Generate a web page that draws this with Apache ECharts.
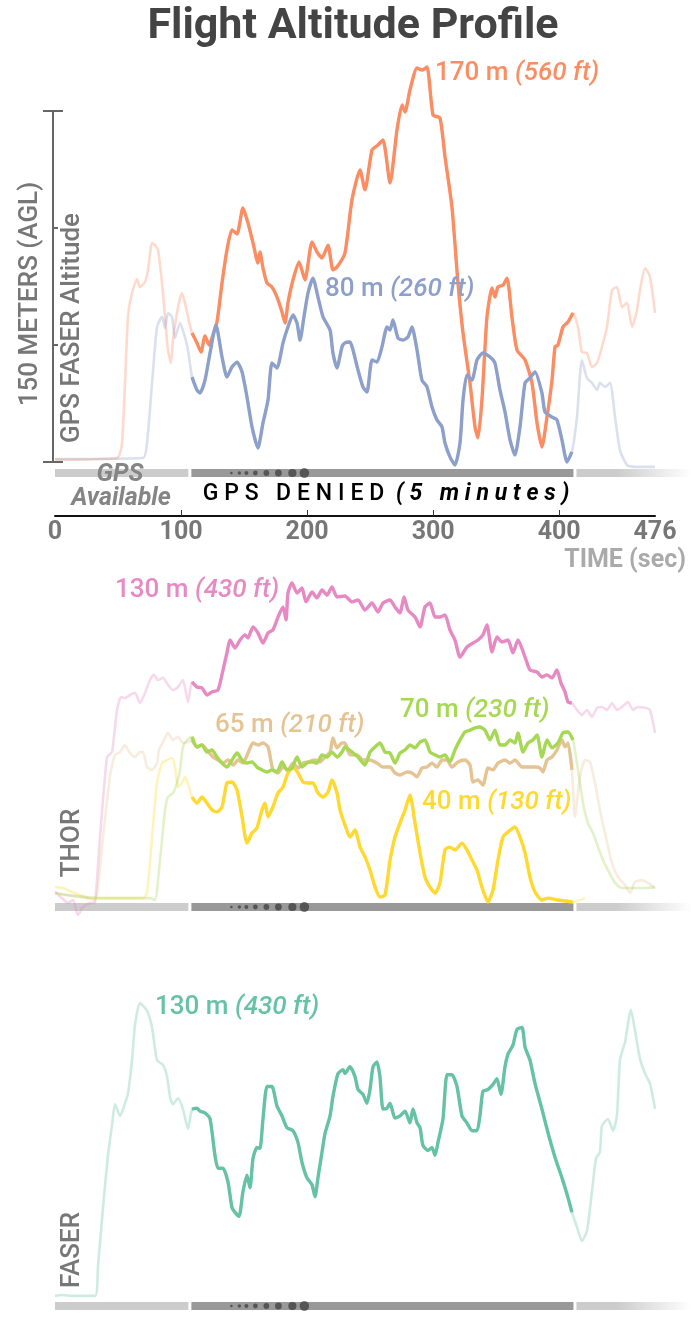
<!DOCTYPE html>
<html>
<head>
<meta charset="utf-8">
<title>Flight Altitude Profile</title>
<script src="https://cdn.jsdelivr.net/npm/echarts@6/dist/echarts.min.js"></script>
<style>
html,body{margin:0;padding:0;background:#fff;}
#container{width:691px;height:1318px;}
</style>
</head>
<body>
<div id="container"></div>
<script>
// [time (sec), altitude (m AGL)]
var gpsAltitude = [[0,1],[49.2,1.7],[53.2,8.1],[57.9,62],[61.1,72.2],[65.1,78.2],[67.4,74.8],[71.4,76.9],[73.8,82.1],[77,93.6],[79.3,92.7],[81.7,90.6],[84.9,76.5],[87.3,62],[89.6,47.9],[92,42.3],[93.6,52.1],[97.6,66.2],[100.7,72.2],[103.1,68],[105.5,62],[108.7,55.1],[112.6,50.9],[115.8,47],[119,53.9],[122.2,50],[125.3,54.3],[128.5,59.8],[132.5,76.5],[136.4,90.6],[140.4,99.2],[144.4,97.4],[149.1,108.6],[153.1,102.1],[157.1,93.6],[161,85],[162.6,89.8],[165,82.9],[168.2,76.5],[172.1,74.8],[176.1,70.5],[180.1,64.1],[182.5,59.4],[184.8,68],[188.8,77.8],[193.6,85.5],[198.3,77.8],[203.9,94],[207.8,89.8],[211.8,87.2],[216.6,92.7],[220.5,82.1],[223.7,83.3],[230,89.3],[235.6,112],[242,124.8],[245.9,116.3],[251.5,133.3],[256.2,135.5],[260.2,137.6],[265.8,119.2],[271.3,141.9],[275.3,152.6],[277.7,149.6],[281.6,159],[287.2,168.4],[291.1,167.5],[295.1,168.8],[299.9,148.3],[305.4,147],[309.4,130.4],[314.9,109],[319.7,76.5],[323.7,55.1],[329.2,33.8],[333.2,15],[335.6,10.3],[338.7,26.5],[342.7,62],[346.7,74.4],[349,70.5],[351.4,74.8],[355.4,75.6],[358.6,78.6],[362.5,62],[366.5,47.9],[372.9,43.6],[378.4,33.8],[382.4,16.7],[386.3,6.4],[390.3,19.2],[394.3,35],[396.7,49.2],[399,50],[403,57.7],[406.9,59.8],[410.9,63.7],[414.9,57.7],[418,47],[422,46.6],[426,40.6],[430,42.3],[433.9,49.2],[437.9,57.7],[441.9,73.5],[445.8,74.8],[449.8,66.2],[453.8,68],[457.8,57.7],[461.7,65],[464.1,73.5],[468.1,82.9],[472,79.1],[476,63.7]];

var gpsFaserAltitude = [[0,1.3],[69.8,1.7],[73,8.1],[77,33.8],[80.9,57.7],[84.9,62],[87.3,57.3],[89.6,63.7],[92.8,62],[95.2,53],[99.2,59.4],[103.1,53.4],[105.5,47.9],[108.7,36.3],[112.6,30.8],[115,29.5],[119,35],[123,46.6],[127.7,58.6],[132.5,44.9],[136.4,36.3],[140.4,40.6],[144.4,42.7],[148.4,38.5],[152.3,27.8],[156.3,15],[161,6],[165,16.7],[169,26.5],[172.1,42.3],[176.1,40.2],[180.9,50.9],[184.8,57.7],[188.8,62.8],[192,59.4],[194.4,52.1],[197.5,62],[200.7,72.2],[204.7,78.6],[208.6,70.5],[212.6,62],[218.2,56.4],[220.5,46.6],[223.7,40.2],[227.7,49.2],[230,50.9],[234,51.3],[236.4,47.9],[240.4,39.3],[244.3,32.1],[247.5,29.9],[251.5,43.6],[255.4,42.7],[259.4,49.2],[263.4,57.7],[265.8,56.4],[268.1,60.7],[272.1,53],[276.1,52.1],[280,53.4],[283.2,57.7],[287.2,47.9],[291.1,35],[295.1,32.1],[299.1,23.5],[303,18],[307,15],[309.4,8.1],[313.4,2.1],[317.3,-1.3],[321.3,8.1],[323.7,26.5],[326.8,37.2],[330.8,35],[334.8,43.6],[339.5,46.6],[345.1,44.9],[349,42.3],[353,30.8],[357,21.4],[361,9.4],[364.9,3],[368.9,15],[372.9,33.8],[376.8,35.9],[380.8,38.5],[386.3,29.5],[388.7,21.4],[394.3,19.2],[398.2,18],[402.2,9.4],[406.2,0],[410.1,4.3],[414.1,19.2],[418,43.6],[422,35.9],[426,33.8],[430,30.8],[432.3,33.8],[436.3,32.1],[440.3,33.8],[444.3,19.2],[448.2,5.1],[453.8,-1.3],[460.1,-2.1],[476,-2.1]];

var thorHigh = [[0,1.8],[5.3,-0.9],[10.3,-3],[14.3,-1.7],[18.2,-8.1],[22.2,-4.7],[27.8,-3],[31.7,-2.6],[35.7,25.2],[41.3,59.4],[45.2,61.5],[49.2,79.5],[52.4,85],[55.5,84.6],[59.5,85.9],[63.5,86.8],[67.4,82.5],[71.4,86.8],[75.4,92.3],[78.5,94.5],[81.7,92.3],[85.7,93.2],[89.6,90.2],[93.6,88],[97.6,89.3],[101.5,92.3],[105.5,82.9],[108.7,91.5],[112.6,89.3],[116.6,88.9],[120.6,85.9],[124.5,87.2],[129.3,88],[133.3,96.6],[136.4,103.9],[138.8,109.4],[142.8,106],[146.8,109.4],[150.7,111.6],[153.1,110.3],[157.1,115],[161,112.4],[165,108.1],[169,112.4],[172.9,113.7],[176.9,119.2],[180.9,123.5],[183.3,118],[184.8,129.5],[188,133.8],[192,129.5],[195.9,131.6],[199.1,125.7],[203.9,129.9],[207.8,127.4],[211.8,130.8],[215.8,128.6],[219.7,132.1],[223.7,127.8],[230,128.2],[235.6,125.7],[240.4,126.5],[245.9,122.2],[251.5,125.2],[256.2,121.4],[260.2,125.2],[265.8,126.5],[269.7,123.5],[273.7,121],[276.9,127.8],[280,122.2],[285.6,119.2],[289.6,115],[293.5,123.5],[297.5,125.2],[301.5,119.2],[305.4,119.2],[309.4,120.1],[313.3,113.7],[317.3,109.4],[321.3,102.1],[326.8,106.4],[331.6,108.1],[335.6,109.4],[339.5,111.6],[342.7,115.8],[346.7,104.3],[350.6,110.7],[354.6,108.6],[359.4,109.4],[363.3,103.9],[367.3,109.4],[372.9,102.1],[376.8,96.6],[382.4,95.7],[386.3,93.6],[390.3,94.5],[394.3,93.2],[398.2,96.6],[401.4,91],[404.6,87.2],[407,82.9],[410.1,82.5],[414.1,79.5],[418,77.4],[422,79.5],[426,76.5],[430,80.4],[433.9,80.8],[437.9,79.5],[441.9,82.5],[445.8,79.5],[449.8,80.8],[454.6,82.9],[458.6,79.5],[462.5,80.8],[468.1,80.4],[472,79.5],[476,69.7]];

var thorMid = [[0,1.3],[9.5,0.4],[25.4,-0.9],[31.7,-1.7],[38.1,25.2],[43.6,50.9],[47.6,60.3],[51.6,61.5],[55.5,64.5],[59.5,61.1],[63.5,59.4],[67.4,61.5],[69.8,61.5],[73,55.1],[77,53.9],[80.9,56.8],[82.5,62.4],[85.7,65.8],[89.6,69.7],[93.6,66.7],[97.6,68],[101.5,65.4],[105.5,65.8],[108.7,66.7],[112.6,63.7],[116.6,64.5],[120.6,62.4],[125.3,59.4],[129.3,58.1],[133.3,56.8],[137.2,58.1],[141.2,56],[145.2,58.1],[149.1,56.8],[153.1,61.1],[157.1,65.4],[161,64.5],[165,65.4],[169,63.7],[172.9,53.9],[176.9,52.6],[180.9,55.1],[184.8,53.9],[188.8,56.8],[192.8,54.7],[196.7,56.8],[200.7,57.3],[206.3,58.1],[210.2,57.3],[214.2,59.4],[218.2,61.5],[220.5,67.5],[223.7,63.3],[227.7,65.4],[230,65.4],[234,60.3],[239.6,60.3],[244.3,58.1],[249.9,58.1],[255.4,56.8],[260.2,55.1],[265.8,55.1],[269.7,52.6],[273.7,51.7],[279.2,53],[283.2,52.6],[287.2,50.9],[291.1,54.7],[295.1,55.1],[299.1,56.8],[303,55.1],[307,58.1],[311,58.1],[314.9,55.1],[319.7,57.3],[325.2,58.1],[329.2,56],[331.6,48.7],[335.6,49.6],[339.5,47.4],[343.5,54.7],[347.5,53.9],[351.4,56.8],[357,58.1],[361,56.8],[364.9,58.1],[370.5,55.1],[375.2,55.1],[380.8,55.1],[384.8,54.7],[387.1,53],[390.3,58.1],[394.3,59.4],[398.2,62.4],[402.2,66.7],[404.6,63.7],[407,65.4],[410.1,53.9],[412.5,33.8],[416.5,50.9],[420.4,58.1],[424.4,57.3],[428.4,48.3],[432.3,36.8],[436.3,26.9],[441.9,14.1],[446.6,8.1],[452.2,4.7],[456.2,1.3],[460.1,6],[465.7,6.8],[470.4,5.6],[476,3.4]];

var thorUpper = [[0,1.3],[9.5,0.4],[35.7,-0.9],[75.4,-0.9],[79.3,-1.7],[83.3,15.4],[87.3,36.8],[89.6,42.3],[93.6,44],[96.8,48.3],[99.2,53.9],[101.5,63.7],[104.7,66.7],[108.7,68],[112.6,63.7],[116.6,64.5],[120.6,61.5],[124.5,62.4],[128.5,59.4],[132.5,56.8],[136.4,55.1],[140.4,58.1],[144.4,61.1],[148.4,58.1],[152.3,56.8],[156.3,57.3],[160.2,55.1],[164.2,53.9],[168.2,53],[172.1,53.9],[176.1,53],[180.1,57.3],[184,53.9],[188,54.7],[192,59.4],[195.9,55.1],[199.9,56.8],[203.9,57.3],[207.8,56.8],[211.8,60.3],[215.8,59.4],[219.7,61.5],[223.7,59.4],[227.7,61.5],[230,63.7],[235.6,61.5],[240.4,59.4],[245.9,56],[249.9,61.5],[253.9,63.7],[257.8,65.4],[261.8,61.5],[265.8,61.1],[269.7,56.8],[273.7,61.1],[277.7,62.4],[281.6,64.5],[285.6,63.3],[289.6,65.8],[293.5,66.7],[297.5,61.5],[301.5,60.3],[305.4,59.4],[309.4,60.3],[313.3,57.3],[317.3,62.4],[321.3,66.7],[325.2,70.1],[329.2,70.9],[333.2,71.8],[337.1,72.2],[341.1,70.9],[345.1,66.7],[349,70.9],[353,64.5],[357,64.5],[361,66.7],[364.9,65.4],[367.3,69.7],[371.3,61.5],[375.2,65.4],[379.2,66.7],[382.4,68.8],[386.3,59.4],[390.3,66.7],[394.3,63.3],[399,65.4],[403,69.7],[407,70.1],[410.9,66.7],[414.9,53.9],[418.9,39.7],[422.8,31.2],[426.8,26.9],[430.8,20.9],[434.7,15.4],[438.7,11.1],[444.3,5.6],[449.8,3.4],[468.1,3.4],[476,3.8]];

var thorLow = [[0,3.8],[6.3,3.4],[13.5,1.7],[19.8,0.4],[27.8,-0.9],[69.8,-0.9],[73,1.3],[77,25.2],[80.9,48.3],[84.9,56.8],[88.9,58.1],[92.8,59],[95.2,55.1],[97.6,46.6],[100.7,48.3],[103.1,50.9],[107.1,45.3],[108.7,42.3],[112.6,39.7],[116.6,42.3],[120.6,39.7],[124.5,36.8],[128.5,35.9],[132.5,38.1],[136.4,48.3],[140.4,48.7],[144.4,45.3],[148.4,33.8],[152.3,22.6],[156.3,26.9],[160.2,29.1],[164.2,36.8],[166.6,39.7],[169,33.8],[172.9,38.1],[176.9,44],[180.9,46.6],[184.8,52.6],[188.8,54.7],[192.8,52.6],[196.7,48.7],[200.7,48.3],[204.7,48.3],[208.6,44],[212.6,42.3],[216.6,44.4],[219.7,49.6],[223.7,44],[226.1,36.8],[230,30.4],[234,25.2],[238,28.2],[242,20.9],[245.9,16.7],[249.9,11.1],[253.9,3.8],[257.8,-0.4],[261.8,0.4],[265.8,15.4],[269.7,25.2],[273.7,31.2],[277.7,36.8],[281.6,43.2],[285.6,31.2],[289.6,18.4],[293.5,8.1],[297.5,3.8],[301.5,1.3],[305.4,5.6],[309.4,19.7],[313.3,20.9],[317.3,19.7],[322.9,22.6],[326.8,19.7],[330.8,15.4],[334.8,11.1],[338.7,3.8],[343.5,-2.6],[347.5,2.6],[351.4,15.4],[355.4,25.2],[359.4,27.4],[364.9,29.5],[368.9,25.2],[372.9,18.4],[376.8,8.1],[380.8,1.7],[386.3,-1.7],[391.1,-0.9],[399,-1.7],[410.9,-2.6],[420.4,-0.9]];

var faserAltitude = [[0,-0.4],[5.6,0],[13.5,-0.4],[31.7,-0.4],[34.1,12.4],[38.1,38],[42,60.7],[45.2,73.5],[47.6,82.9],[51.6,77.8],[55.5,83.3],[57.9,87.6],[61.1,102.1],[63.5,117.5],[67.4,126.9],[73,123.5],[77,116.3],[80.9,102.1],[85.7,100],[88.9,94.9],[91.2,86.3],[93.6,82.9],[97.6,85.5],[101.5,80.8],[105.5,72.2],[108.7,80.8],[112.6,81.2],[115,79.9],[119,79.1],[123,76.5],[126.9,60.7],[129.3,55.1],[133.3,55.1],[137.2,49.2],[140.4,38],[142.8,35.9],[146,34.2],[149.1,44.9],[152.3,52.1],[154.7,46.6],[157.1,59.4],[160.2,64.1],[162.6,63.7],[165,76.5],[168.2,90.6],[172.1,90.6],[176.1,82.1],[180.1,77.8],[184,72.7],[188.8,71.4],[192.8,66.2],[195.9,57.7],[199.9,50.9],[203.9,47.9],[206.3,42.7],[208.6,50.9],[211.8,62],[214.2,70.1],[218.2,77.8],[220.5,86.3],[224.5,96.2],[228.5,97.9],[230,96.2],[234,99.2],[238,94.9],[240.4,89.3],[244.3,87.2],[247.5,83.3],[249.9,89.3],[252.3,99.2],[255.4,101.3],[257.8,94.9],[260.2,80.8],[263.4,81.2],[265.8,83.3],[269.7,76.9],[273.7,77.8],[277.7,79.9],[281.6,74.8],[284,80.8],[287.2,74.8],[289.6,72.7],[291.9,65],[295.9,62.8],[299.1,64.1],[301.5,60.7],[303.8,66.2],[307.8,76.5],[311,95.7],[314.9,95.7],[318.9,90.6],[322.9,77.8],[326.8,74.8],[330.8,71.4],[334.8,71.4],[337.1,77.8],[339.5,88.5],[343.5,89.3],[347.5,91.5],[350.6,94],[353.8,87.2],[357,99.2],[359.4,104.7],[363.3,108.6],[366.5,115.4],[370.5,116.3],[372.9,107.7],[376.8,102.1],[380.8,91.9],[386.3,80.8],[391.1,70.5],[396.7,59.8],[402.2,50.9],[407,42.3],[410.1,35.9],[414.1,29.5],[418,23.5],[422,27.8],[426,44.9],[429.2,59.4],[432.3,62],[433.9,73.5],[438.7,76.5],[442.7,71.4],[445.8,77.8],[448.2,102.1],[452.2,109.8],[456.9,123.9],[460.1,115],[464.1,102.6],[468.1,96.2],[472,91.9],[476,80.8]];

var timeLabels = [0, 100, 200, 300, 400, 476];
var timeTicks = [100, 200, 300, 400];
var altTicks = [0, 50, 100, 150];
// GPS status phases: available / denied / available
var phaseStart = [0, 107, 412.5];
var phaseEnd = [107, 412.5, 476];
var phaseDenied = [0, 1, 0];
var deniedFrom = 108, deniedTo = 411.5;

var dotOffsets = [40, 48, 55, 64, 75, 87, 101, 113];
var dotRadii = [1.3, 1.7, 2.0, 2.4, 2.9, 3.4, 4.1, 4.8];

var FONT = 'Roboto';
var pxPerM = 2.34, yMin = -10, yMax = 180;
var baselines = [462, 896, 1302];

var dom = document.getElementById('container');
var myChart = echarts.init(dom);

function lineSeries(idx, data, color, bold) {
	return {
		type: 'line',
		xAxisIndex: idx,
		yAxisIndex: idx,
		data: bold ? data.filter(function(p) { return p[0] >= deniedFrom && p[0] <= deniedTo; }) : data,
		showSymbol: false,
		symbol: 'none',
		smooth: 0.2,
		silent: true,
		z: bold ? 4 : 2,
		lineStyle: { color: color, width: bold ? 3.4 : 2.6, opacity: bold ? 1 : 0.32 }
	};
}

function stripSeries(idx) {
	return {
		type: 'custom',
		xAxisIndex: idx,
		yAxisIndex: idx,
		clip: false,
		silent: true,
		z: 1,
		data: phaseStart.map(function(s, i) { return [s, phaseEnd[i], phaseDenied[i]]; }),
		renderItem: function(params, api) {
			var s = api.value(0), e = api.value(1), denied = api.value(2) === 1;
			var a = api.coord([s, 0]), b = api.coord([e, 0]);
			var x0 = s > 0 ? a[0] + 1.5 : a[0];
			var last = e >= 476;
			var x1 = last ? api.getWidth() : b[0] - 1.5;
			var y = a[1] + 7;
			var fill = denied ? '#999' : '#ccc';
			if (last) {
				fill = new echarts.graphic.LinearGradient(0, 0, 1, 0, [
					{ offset: 0, color: '#ccc' },
					{ offset: 0.35, color: '#ccc' },
					{ offset: 1, color: 'rgba(204,204,204,0)' }
				]);
			}
			var children = [{ type: 'rect', shape: { x: x0, y: y, width: x1 - x0, height: 8 }, style: { fill: fill } }];
			if (denied) {
				for (var k = 0; k < dotOffsets.length; k++) {
					children.push({ type: 'circle', shape: { cx: x0 + dotOffsets[k], cy: y + 4, r: dotRadii[k] }, style: { fill: '#555' } });
				}
			}
			return { type: 'group', children: children };
		}
	};
}

function label(x, y, metres, feet, color) {
	return {
		type: 'text', x: x, y: y, z: 100, silent: true,
		style: {
			text: '{a|' + metres + ' m }{b|(' + feet + ' ft)}',
			verticalAlign: 'middle',
			fill: color,
			rich: {
				a: { fontFamily: FONT, fontSize: 26, fontWeight: 500, fill: color },
				b: { fontFamily: FONT, fontSize: 26, fontWeight: 500, fontStyle: 'italic', fill: color }
			}
		}
	};
}

function vText(x, y, text) {
	return {
		type: 'text', x: x, y: y, rotation: Math.PI / 2, z: 100, silent: true,
		style: { text: text, fill: '#777', fontFamily: FONT, fontSize: 26, fontWeight: 500, align: 'center', verticalAlign: 'middle' }
	};
}

function spaced(s) { return s.split('').join('\u2005'); }

var grids = [], xAxes = [], yAxes = [];
baselines.forEach(function(y0, i) {
	grids.push({ left: 55, width: 600, top: y0 - yMax * pxPerM, height: (yMax - yMin) * pxPerM });
	yAxes.push({ gridIndex: i, type: 'value', min: yMin, max: yMax, show: false });
	xAxes.push({ gridIndex: i, type: 'value', min: 0, max: 476, show: i === 0,
		position: 'bottom', offset: i === 0 ? 516 - (y0 - yMin * pxPerM) : 0,
		axisLine: { show: true, onZero: false, lineStyle: { color: '#111', width: 2 } },
		axisTick: { show: true, inside: true, length: 6, customValues: timeTicks, lineStyle: { color: '#333', width: 1 } },
		axisLabel: { show: true, customValues: timeLabels, margin: 4, color: '#777', fontSize: 25, fontWeight: 'bold', fontFamily: FONT },
		splitLine: { show: false }
	});
});

var yScale = {
	type: 'custom',
	xAxisIndex: 0,
	yAxisIndex: 0,
	clip: false,
	silent: true,
	data: altTicks.map(function(v) { return [0, v]; }),
	renderItem: function(params, api) {
		var p = api.coord([0, api.value(1)]);
		var x = p[0] - 2;
		var isEnd = params.dataIndex === 0 || params.dataIndex === altTicks.length - 1;
		var st = { stroke: '#666', lineWidth: 2 };
		var children = [{ type: 'line', shape: { x1: isEnd ? x - 10 : x, y1: p[1], x2: x + (isEnd ? 10 : 5), y2: p[1] }, style: st }];
		if (params.dataIndex === 0) {
			var top = api.coord([0, altTicks[altTicks.length - 1]]);
			children.push({ type: 'line', shape: { x1: x, y1: p[1], x2: x, y2: top[1] }, style: st });
		}
		return { type: 'group', children: children };
	}
};

var C = {
	orange: '#fc8d62', blue: '#8da0cb', pink: '#e78ac3', tan: '#e5c494',
	green: '#a6d854', yellow: '#ffd92f', teal: '#66c2a5'
};

option = {
	backgroundColor: '#fff',
	animation: false,
	grid: grids,
	xAxis: xAxes,
	yAxis: yAxes,
	series: [
		stripSeries(0), yScale,
		lineSeries(0, gpsAltitude, C.orange, false),
		lineSeries(0, gpsFaserAltitude, C.blue, false),
		lineSeries(0, gpsAltitude, C.orange, true),
		lineSeries(0, gpsFaserAltitude, C.blue, true),

		stripSeries(1),
		lineSeries(1, thorHigh, C.pink, false),
		lineSeries(1, thorLow, C.yellow, false),
		lineSeries(1, thorMid, C.tan, false),
		lineSeries(1, thorUpper, C.green, false),
		lineSeries(1, thorHigh, C.pink, true),
		lineSeries(1, thorLow, C.yellow, true),
		lineSeries(1, thorMid, C.tan, true),
		lineSeries(1, thorUpper, C.green, true),

		stripSeries(2),
		lineSeries(2, faserAltitude, C.teal, false),
		lineSeries(2, faserAltitude, C.teal, true)
	],
	graphic: [
		{ type: 'text', x: 353, y: 27, z: 100, silent: true,
			style: { text: 'Flight Altitude Profile', fill: '#444', fontFamily: FONT, fontSize: 43, fontWeight: 'bold', align: 'center', verticalAlign: 'middle' } },
		vText(30, 294, '150 METERS (AGL)'),
		vText(72, 328, 'GPS FASER Altitude'),
		vText(72, 843, 'THOR'),
		vText(72, 1250, 'FASER'),
		{ type: 'text', x: 120, y: 475, z: 100, silent: true,
			style: { text: 'GPS', fill: '#858585', fontFamily: FONT, fontSize: 25, fontWeight: 'bold', fontStyle: 'italic', align: 'center', verticalAlign: 'middle' } },
		{ type: 'text', x: 121, y: 499, z: 100, silent: true,
			style: { text: 'Available', fill: '#858585', fontFamily: FONT, fontSize: 25, fontWeight: 'bold', fontStyle: 'italic', align: 'center', verticalAlign: 'middle' } },
		{ type: 'text', x: 386, y: 494, z: 100, silent: true,
			style: {
				text: '{a|' + spaced('GPS DENIED') + '\u2005\u2005}{b|' + spaced('(5 minutes)') + '}',
				align: 'center', verticalAlign: 'middle', fill: '#000',
				rich: {
					a: { fontFamily: FONT, fontSize: 23, fontWeight: 500, fill: '#000' },
					b: { fontFamily: FONT, fontSize: 23, fontWeight: 'bold', fontStyle: 'italic', fill: '#000' }
				}
			} },
		{ type: 'text', x: 686, y: 561, z: 100, silent: true,
			style: { text: 'TIME (sec)', fill: '#aaa', fontFamily: FONT, fontSize: 25, fontWeight: 'bold', align: 'right', verticalAlign: 'middle' } },
		label(435, 73, '170', '560', C.orange),
		label(325, 289, '80', '260', C.blue),
		label(115, 590, '130', '430', C.pink),
		label(215, 725, '65', '210', C.tan),
		label(400, 710, '70', '230', C.green),
		label(422, 802, '40', '130', C.yellow),
		label(155, 1007, '130', '430', C.teal)
	]
};

if (option && typeof option === 'object') {
	myChart.setOption(option, true);
}
</script>
</body>
</html>
